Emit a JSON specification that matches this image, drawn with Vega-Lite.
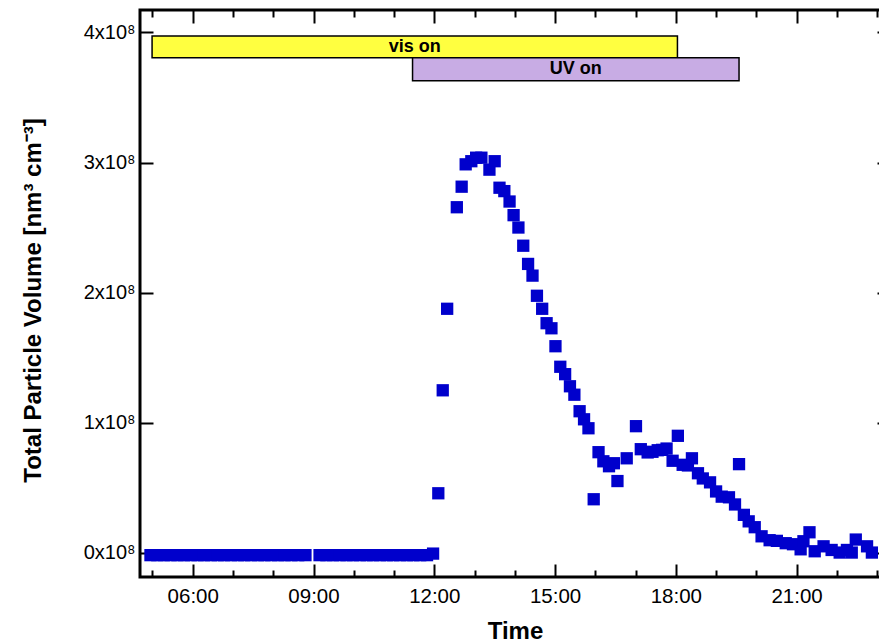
{
  "$schema": "https://vega.github.io/schema/vega-lite/v6.json",
  "width": 750,
  "height": 567,
  "autosize": "none",
  "padding": {"left": 140, "top": 10, "right": -11, "bottom": 67},
  "background": "white",
  "config": {
    "view": {"stroke": "black", "strokeWidth": 3},
    "font": "Liberation Sans",
    "axis": {"grid": false, "domain": false, "tickColor": "black", "tickWidth": 2, "labelColor": "black", "titleColor": "black", "labelFont": "Liberation Sans", "titleFont": "Liberation Sans"}
  },
  "datasets": {
    "lamps": [
      {"label": "vis on", "start": 4.99, "end": 18.04, "lo": 380600000, "hi": 397300000},
      {"label": "UV on", "start": 11.46, "end": 19.57, "lo": 362900000, "hi": 380600000}
    ],
    "pv": [
      {"t": 4.95, "v": -2000000}, {"t": 5.12, "v": -2000000}, {"t": 5.28, "v": -2000000}, {"t": 5.45, "v": -2000000},
      {"t": 5.62, "v": -2000000}, {"t": 5.78, "v": -2000000}, {"t": 5.95, "v": -2000000}, {"t": 6.12, "v": -2000000},
      {"t": 6.28, "v": -2000000}, {"t": 6.45, "v": -2000000}, {"t": 6.62, "v": -2000000}, {"t": 6.78, "v": -2000000},
      {"t": 6.95, "v": -2000000}, {"t": 7.12, "v": -2000000}, {"t": 7.28, "v": -2000000}, {"t": 7.45, "v": -2000000},
      {"t": 7.62, "v": -2000000}, {"t": 7.78, "v": -2000000}, {"t": 7.95, "v": -2000000}, {"t": 8.12, "v": -2000000},
      {"t": 8.28, "v": -2000000}, {"t": 8.45, "v": -2000000}, {"t": 8.62, "v": -2000000}, {"t": 8.80, "v": -2000000},
      {"t": 9.15, "v": -2000000}, {"t": 9.32, "v": -2000000}, {"t": 9.48, "v": -2000000}, {"t": 9.65, "v": -2000000},
      {"t": 9.82, "v": -2000000}, {"t": 9.98, "v": -2000000}, {"t": 10.15, "v": -2000000}, {"t": 10.32, "v": -2000000},
      {"t": 10.48, "v": -2000000}, {"t": 10.65, "v": -2000000}, {"t": 10.82, "v": -2000000}, {"t": 10.98, "v": -2000000},
      {"t": 11.15, "v": -2000000}, {"t": 11.32, "v": -2000000}, {"t": 11.48, "v": -2000000}, {"t": 11.65, "v": -2000000},
      {"t": 11.82, "v": -2000000}, {"t": 11.97, "v": -800000},
      {"t": 12.10, "v": 45600000}, {"t": 12.21, "v": 124800000}, {"t": 12.32, "v": 187500000},
      {"t": 12.56, "v": 265600000}, {"t": 12.68, "v": 281400000}, {"t": 12.78, "v": 298600000},
      {"t": 12.92, "v": 301000000}, {"t": 13.04, "v": 303700000}, {"t": 13.17, "v": 303700000},
      {"t": 13.37, "v": 294500000}, {"t": 13.50, "v": 301000000}, {"t": 13.62, "v": 280600000},
      {"t": 13.74, "v": 278000000}, {"t": 13.87, "v": 270000000}, {"t": 13.97, "v": 259500000},
      {"t": 14.09, "v": 250000000}, {"t": 14.21, "v": 236000000}, {"t": 14.33, "v": 222000000},
      {"t": 14.44, "v": 213000000}, {"t": 14.55, "v": 197500000}, {"t": 14.68, "v": 187500000},
      {"t": 14.79, "v": 176400000}, {"t": 14.91, "v": 172500000}, {"t": 15.01, "v": 158700000},
      {"t": 15.13, "v": 142900000}, {"t": 15.25, "v": 137200000}, {"t": 15.37, "v": 127900000},
      {"t": 15.48, "v": 121400000}, {"t": 15.61, "v": 108700000}, {"t": 15.72, "v": 102500000},
      {"t": 15.83, "v": 95600000}, {"t": 15.96, "v": 41000000}, {"t": 16.08, "v": 77200000},
      {"t": 16.20, "v": 70200000}, {"t": 16.34, "v": 66400000}, {"t": 16.46, "v": 68700000},
      {"t": 16.55, "v": 55000000}, {"t": 16.78, "v": 72500000}, {"t": 17.01, "v": 97200000},
      {"t": 17.13, "v": 79500000}, {"t": 17.30, "v": 77000000}, {"t": 17.42, "v": 77500000},
      {"t": 17.55, "v": 78700000}, {"t": 17.66, "v": 79000000}, {"t": 17.77, "v": 80000000},
      {"t": 17.92, "v": 70600000}, {"t": 18.05, "v": 89800000}, {"t": 18.17, "v": 67500000},
      {"t": 18.30, "v": 67000000}, {"t": 18.40, "v": 72500000}, {"t": 18.55, "v": 61000000},
      {"t": 18.67, "v": 57000000}, {"t": 18.85, "v": 54000000}, {"t": 19.00, "v": 47000000},
      {"t": 19.14, "v": 43000000}, {"t": 19.32, "v": 42500000}, {"t": 19.47, "v": 37000000},
      {"t": 19.57, "v": 68000000}, {"t": 19.69, "v": 29000000}, {"t": 19.81, "v": 24000000},
      {"t": 19.96, "v": 19500000}, {"t": 20.13, "v": 12500000}, {"t": 20.33, "v": 9500000},
      {"t": 20.51, "v": 9000000}, {"t": 20.73, "v": 7200000}, {"t": 20.91, "v": 6400000},
      {"t": 21.10, "v": 2500000}, {"t": 21.17, "v": 8700000}, {"t": 21.32, "v": 15600000},
      {"t": 21.45, "v": 1000000}, {"t": 21.67, "v": 4800000}, {"t": 21.87, "v": 2000000},
      {"t": 22.07, "v": 0}, {"t": 22.25, "v": 2000000}, {"t": 22.37, "v": 0},
      {"t": 22.47, "v": 10000000}, {"t": 22.75, "v": 4800000}, {"t": 22.87, "v": 0}
    ]
  },
  "layer": [
    {
      "data": {"name": "lamps"},
      "mark": {"type": "rect", "stroke": "black", "strokeWidth": 1.5},
      "encoding": {
        "x": {"field": "start", "type": "quantitative",
          "scale": {"domain": [4.69, 23.32], "nice": false, "zero": false},
          "axis": {"orient": "bottom", "values": [6, 9, 12, 15, 18, 21],
            "labelExpr": "(datum.value < 10 ? '0' : '') + datum.value + ':00'",
            "tickSize": -13, "labelPadding": 22, "labelFontSize": 20.5,
            "title": "Time", "titleFontSize": 24, "titleFontWeight": "bold",
            "titleY": 61, "titleBaseline": "alphabetic"}},
        "x2": {"field": "end"},
        "y": {"field": "lo", "type": "quantitative",
          "scale": {"domain": [-18800000, 417300000], "nice": false, "zero": false},
          "axis": {"orient": "left", "values": [0, 100000000, 200000000, 300000000, 400000000],
            "labelExpr": "format(datum.value / 1e8, 'd') + 'x10⁸'",
            "tickSize": -13, "labelPadding": 18, "labelFontSize": 20,
            "title": "Total Particle Volume [nm³ cm⁻³]", "titleFontSize": 24, "titleFontWeight": "bold",
            "titleX": -100, "titleY": 290, "titleBaseline": "alphabetic", "titleAngle": -90}},
        "y2": {"field": "hi"},
        "color": {"field": "label", "type": "nominal",
          "scale": {"domain": ["vis on", "UV on"], "range": ["#FFFF40", "#C8ACE4"]}, "legend": null}
      }
    },
    {
      "data": {"name": "lamps"},
      "transform": [
        {"calculate": "(datum.start + datum.end) / 2", "as": "mid"},
        {"calculate": "(datum.lo + datum.hi) / 2", "as": "ymid"}
      ],
      "mark": {"type": "text", "font": "Liberation Sans", "fontWeight": "bold", "fontSize": 18, "color": "black", "baseline": "middle", "align": "center"},
      "encoding": {
        "x": {"field": "mid", "type": "quantitative", "scale": {"domain": [4.69, 23.32], "nice": false, "zero": false}, "axis": null},
        "y": {"field": "ymid", "type": "quantitative", "scale": {"domain": [-18800000, 417300000], "nice": false, "zero": false}, "axis": null},
        "text": {"field": "label"}
      }
    },
    {
      "data": {"name": "pv"},
      "mark": {"type": "point", "shape": "square", "filled": true, "size": 151, "color": "#0000CC", "opacity": 1},
      "encoding": {
        "x": {"field": "t", "type": "quantitative", "scale": {"domain": [4.69, 23.32], "nice": false, "zero": false},
          "axis": {"orient": "bottom", "values": [5, 7, 8, 10, 11, 13, 14, 16, 17, 19, 20, 22, 23], "tickSize": -7, "labels": false, "title": null}},
        "y": {"field": "v", "type": "quantitative", "scale": {"domain": [-18800000, 417300000], "nice": false, "zero": false},
          "axis": {"orient": "right", "values": [0, 100000000, 200000000, 300000000, 400000000], "tickSize": -13, "labels": false, "title": null}}
      }
    },
    {
      "data": {"name": "lamps"},
      "mark": {"type": "point", "opacity": 0},
      "encoding": {
        "x": {"field": "start", "type": "quantitative", "scale": {"domain": [4.69, 23.32], "nice": false, "zero": false},
          "axis": {"orient": "top", "values": [6, 9, 12, 15, 18, 21], "tickSize": -13, "labels": false, "title": null}},
        "y": {"field": "lo", "type": "quantitative", "scale": {"domain": [-18800000, 417300000], "nice": false, "zero": false}, "axis": null}
      }
    },
    {
      "data": {"name": "lamps"},
      "mark": {"type": "point", "opacity": 0},
      "encoding": {
        "x": {"field": "start", "type": "quantitative", "scale": {"domain": [4.69, 23.32], "nice": false, "zero": false},
          "axis": {"orient": "top", "values": [5, 7, 8, 10, 11, 13, 14, 16, 17, 19, 20, 22, 23], "tickSize": -7, "labels": false, "title": null}},
        "y": {"field": "lo", "type": "quantitative", "scale": {"domain": [-18800000, 417300000], "nice": false, "zero": false}, "axis": null}
      }
    }
  ],
  "resolve": {"axis": {"x": "independent", "y": "independent"}}
}
